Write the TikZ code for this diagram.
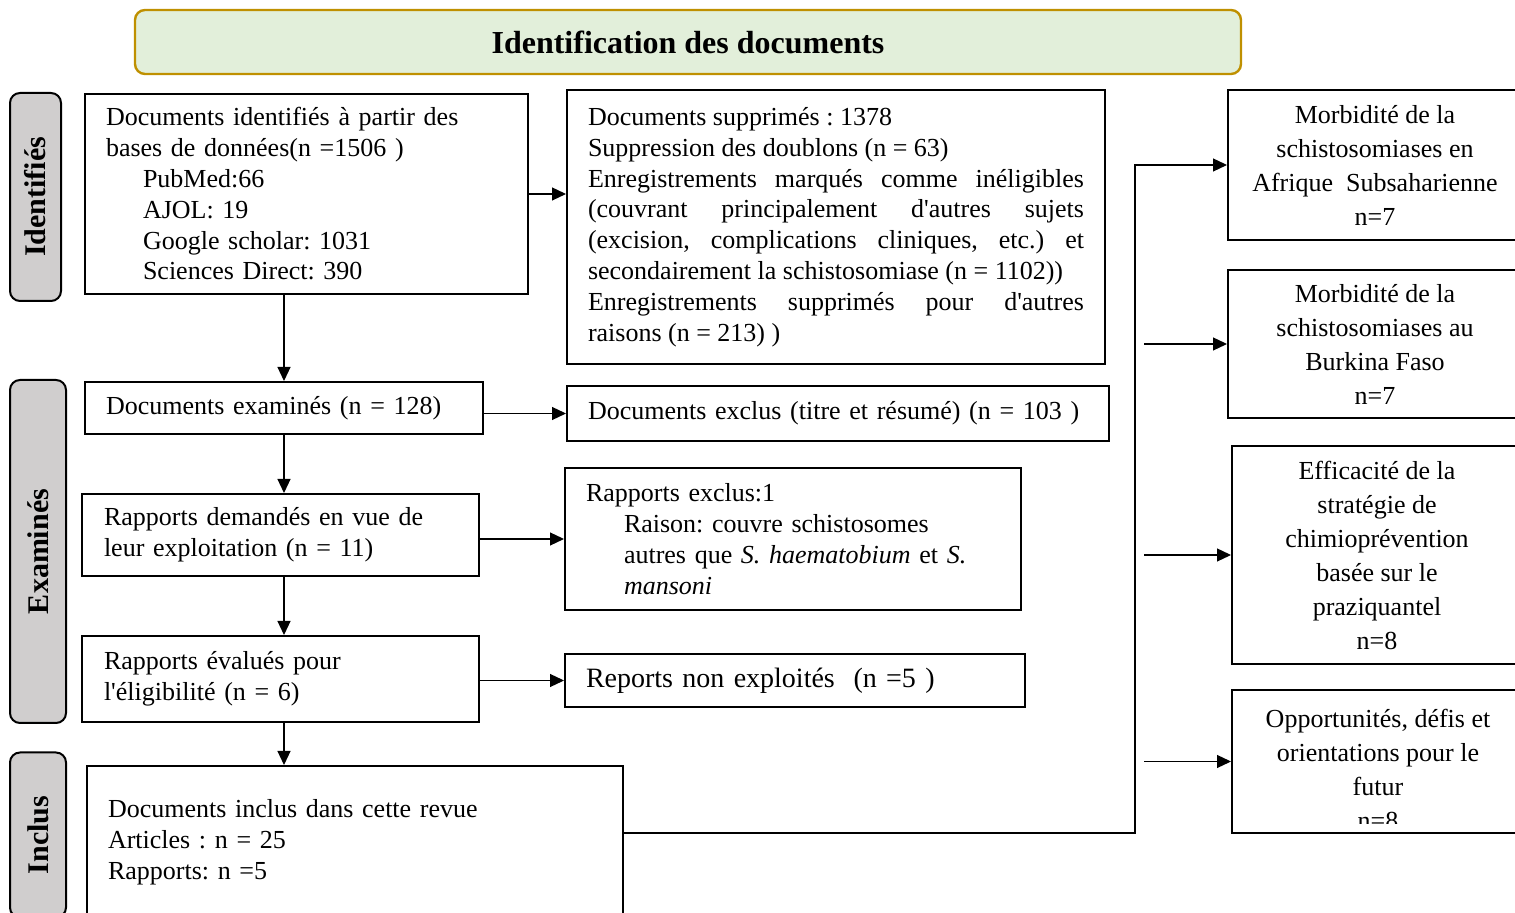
\documentclass[tikz,border=0pt]{standalone}
\usepackage{fontspec}
\setmainfont{Liberation Serif}
\usetikzlibrary{arrows.meta}
\frenchspacing

\definecolor{titlefill}{HTML}{E2EFDA}
\definecolor{titleline}{HTML}{BF9000}
\definecolor{stagegray}{HTML}{D0CECE}

\tikzset{
  box/.style={draw, line width=1pt, inner sep=2pt, align=left, font=\fontsize{13}{15.4}\selectfont},
  topic/.style={draw, line width=1pt, inner sep=2pt, align=center, font=\fontsize{13}{17}\selectfont},
  stage/.style={draw, line width=1pt, rounded corners=5pt, fill=stagegray, rotate=90, font=\fontsize{15}{17}\selectfont\bfseries},
  arr/.style={-{Triangle[length=7pt,width=6.5pt]}, line width=0.6pt},
}

\begin{document}
\begin{tikzpicture}[x=0.5pt,y=-0.5pt]
        \useasboundingbox (0,0) rectangle (1515,913);
        \clip (0,0) rectangle (1515,913);

        \node[draw=titleline, line width=1.2pt, fill=titlefill, rounded corners=5pt, minimum width=553pt, minimum height=32pt, font=\fontsize{16}{18}\selectfont\bfseries] (title) at (688,42) {Identification des documents};

        \node[stage, minimum width=104pt, minimum height=25.5pt] (identifies) at (35.5,197) {Identifiés};
        \node[stage, minimum width=171.5pt, minimum height=28pt] (examines) at (38,551.5) {Examinés};
        \node[stage, minimum width=82.5pt, minimum height=28pt] (inclus) at (38,835) {Inclus};

        \node[box, minimum width=221.5pt, minimum height=100pt, text width=200.5pt] (ident) at (306.5,194) {Documents identifiés à partir des\\bases de données(n =1506 )\\\hspace*{18.5pt}PubMed:66\\\hspace*{18.5pt}AJOL: 19\\\hspace*{18.5pt}Google scholar: 1031\\\hspace*{18.5pt}Sciences Direct: 390};
        \node[box, align=justify, minimum width=269pt, minimum height=137pt, text width=248pt] (suppr) at (836,227) {Documents supprimés : 1378\\Suppression des doublons (n = 63)\\Enregistrements marqués comme inéligibles\linebreak (couvrant principalement d\textquotesingle autres sujets\linebreak (excision, complications cliniques, etc.) et\linebreak secondairement la schistosomiase (n = 1102))\\Enregistrements supprimés pour d\textquotesingle autres\linebreak raisons (n = 213) )};

        \node[box, minimum width=199pt, minimum height=26pt, text width=178pt] (exam) at (284,408) {Documents examinés (n = 128)};
        \node[box, minimum width=271pt, minimum height=27.5pt, text width=250pt] (exclus) at (838,413.5) {Documents exclus (titre et résumé) (n = 103 )};

        \node[box, minimum width=198.5pt, minimum height=41pt, text width=176.5pt] (demandes) at (280.5,535) {Rapports demandés en vue de\\leur exploitation (n = 11)};
        \node[box, minimum width=228pt, minimum height=71pt, text width=207pt] (rexclus) at (793,539) {Rapports exclus:1\\\hspace*{19pt}Raison: couvre schistosomes\\\hspace*{19pt}autres que \textit{S. haematobium} et \textit{S.}\\\hspace*{19pt}\textit{mansoni}};

        \node[box, minimum width=198.5pt, minimum height=43pt, text width=176.5pt] (evalues) at (280.5,679) {Rapports évalués pour\\l\textquotesingle éligibilité (n = 6)};
        \node[box, minimum width=230pt, minimum height=26.5pt, text width=209pt, font=\fontsize{14}{16}\selectfont] (nonexpl) at (795,680.5) {Reports non exploités\ \ (n =5 )};

        \node[box, minimum width=268pt, minimum height=76pt, text width=247pt] (inclusdoc) at (355,842) {Documents inclus dans cette revue\\Articles : n = 25\\Rapports: n =5};

        \node[topic, minimum width=147pt, minimum height=75pt] (afrique) at (1375,165) {Morbidité de la\\schistosomiases en\\Afrique\ \ Subsaharienne\\n=7};
        \node[topic, minimum width=147pt, minimum height=74pt] (burkina) at (1375,344) {Morbidité de la\\schistosomiases au\\Burkina Faso\\n=7};
        \node[topic, minimum width=145pt, minimum height=109pt] (efficacite) at (1377,555) {Efficacité de la\\stratégie de\\chimioprévention\\basée sur le\\praziquantel\\n=8};
        \node[topic, minimum width=146pt, minimum height=71.5pt] (futur) at (1378,761.5) {};
        \begin{scope}
            \clip (futur.north west) rectangle ([yshift=5.5pt]futur.south east);
            \node[topic, draw=none, yshift=-3.75pt] (futurtext) at (futur.center) {Opportunités, défis et\\orientations pour le\\futur\\n=8};
        \end{scope}

        \coordinate (bus) at (1135,833);
        \coordinate (tap) at (1144,0);

        \draw[arr] (ident.east) -- (ident.east -| suppr.west);
        \draw[arr] (ident.south -| exam.north) -- (exam.north);
        \draw[arr] (exam.east |- exclus.west) -- (exclus.west);
        \draw[arr] (exam.south) -- (exam.south |- demandes.north);
        \draw[arr] (demandes.east |- rexclus.west) -- (rexclus.west);
        \draw[arr] (demandes.south -| exam.south) -- (evalues.north -| exam.south);
        \draw[arr] (evalues.east |- nonexpl.west) -- (nonexpl.west);
        \draw[arr] (evalues.south -| exam.south) -- (inclusdoc.north -| exam.south);

        \draw[arr] (inclusdoc.east |- bus) -- (bus) -- (bus |- afrique.west) -- (afrique.west);
        \draw[arr] (burkina.west -| tap) -- (burkina.west);
        \draw[arr] (efficacite.west -| tap) -- (efficacite.west);
        \draw[arr] (futur.west -| tap) -- (futur.west);
    \end{tikzpicture}
\end{document}
